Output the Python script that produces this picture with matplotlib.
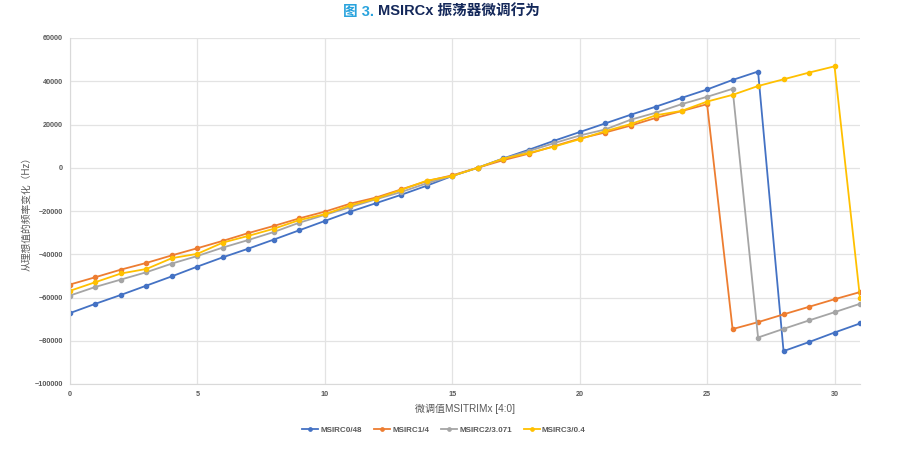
import numpy as np
import matplotlib
matplotlib.use("Agg")
import matplotlib.pyplot as plt

plt.rcParams['font.family'] = ['Liberation Sans', 'Noto Sans CJK SC', 'DejaVu Sans']

# trim codes 0..31
trim = list(range(32))

msirc0 = [-67200, -62900, -58800, -54500, -50200, -45700, -41400, -37400, -33200, -28900,
          -24600, -20300, -16400, -12500, -8300, -3800, 0, 4300, 8300, 12500,
          16500, 20500, 24500, 28300, 32300, 36200, 40600, 44500, -84800, -80600,
          -76200, -72000]
msirc1 = [-54000, -50600, -47100, -44000, -40500, -37200, -33800, -30200, -26900, -23400,
          -20300, -16600, -13800, -10000, -6200, -3500, 0, 3500, 6500, 10000,
          13500, 16300, 19500, 23100, 26200, 29400, -74600, -71400, -67800, -64300,
          -60800, -57500]
msirc2 = [-59100, -55100, -51700, -48300, -44300, -40800, -36900, -33400, -29700, -25400,
          -21800, -18200, -14600, -11200, -7200, -3800, 0, 4200, 7700, 11400,
          14900, 17700, 22200, 25500, 29400, 32800, 36500, -78500, -74500, -70600,
          -66800, -62900]
msirc3 = [-56900, -52900, -48900, -46800, -41800, -39800, -34600, -31500, -28200, -24200,
          -21500, -17400, -14300, -10200, -6000, -3800, 0, 4200, 6800, 9800,
          13200, 16900, 20200, 24300, 26300, 30600, 33700, 37800, 40900, 44000,
          46900, -60200]

series = [
    ("MSIRC0/48", msirc0, "#4472C4"),
    ("MSIRC1/4", msirc1, "#ED7D31"),
    ("MSIRC2/3.071", msirc2, "#A5A5A5"),
    ("MSIRC3/0.4", msirc3, "#FFC000"),
]

fig = plt.figure(figsize=(8.98, 4.51), dpi=100)
ax = fig.add_axes([70 / 898, 1 - 384 / 451, 790 / 898, 346 / 451])

for name, vals, col in series:
    ax.plot(trim, vals, color=col, lw=1.3, marker='o', ms=3, label=name)

ax.set_xlim(0, 31)
ax.set_ylim(-100000, 60000)
ax.set_xticks(range(0, 31, 5))
ax.set_yticks(range(-100000, 60001, 20000))
ax.grid(True, color="#E3E3E3", lw=0.9)
ax.set_axisbelow(True)
for s in ["top", "right"]:
    ax.spines[s].set_visible(False)
for s in ["left", "bottom"]:
    ax.spines[s].set_color("#D9D9D9")
ax.tick_params(length=0, labelsize=5.2, labelcolor="#595959", pad=5)
for lab in ax.get_xticklabels() + ax.get_yticklabels():
    lab.set_fontweight("bold")

ax.set_xlabel("微调值MSITRIMx [4:0]", fontsize=7.2, color="#595959", labelpad=4)
ax.set_ylabel("从理想值的频率变化（Hz）", fontsize=7, color="#595959", labelpad=2)

leg = fig.legend(loc="center", bbox_to_anchor=(444 / 898, 1 - 430 / 451), ncol=4,
                 frameon=False, fontsize=5.8, handlelength=2.0, columnspacing=1.5,
                 handletextpad=0.25, markerscale=0.8)
for t in leg.get_texts():
    t.set_color("#595959")
    t.set_fontweight("bold")

# two-colour title
r = fig.canvas.get_renderer()
t1 = fig.text(343 / 898, 1 - 12 / 451, "图 3. ", color="#29A3DD", fontsize=10.5,
              fontweight="bold", va="center", ha="left")
bb = t1.get_window_extent(renderer=r)
fig.text(bb.x1 / fig.bbox.width, 1 - 12 / 451, "MSIRCx 振荡器微调行为", color="#14285A",
         fontsize=10.5, fontweight="bold", va="center", ha="left")

fig.savefig("out.png", dpi=100)
